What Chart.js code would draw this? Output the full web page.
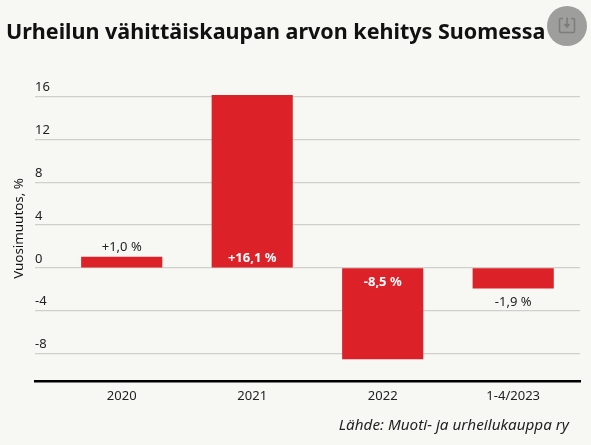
<!DOCTYPE html>
<html lang="fi">
<head>
<meta charset="utf-8">
<script src="https://cdn.jsdelivr.net/npm/chart.js@4"></script>
<style>
html,body{margin:0;padding:0;background:#f7f8f4;width:591px;height:445px;overflow:hidden;font-family:"Noto Sans",sans-serif}
#wrap{position:relative;width:591px;height:445px}
canvas{position:absolute;left:0;top:0}
#title{position:absolute;left:6px;top:16px;margin:0;font-size:21.5px;line-height:30px;font-weight:700;color:#111;white-space:nowrap}
#btn{position:absolute;left:547px;top:6px;width:40px;height:40px;border-radius:50%;background:#9e9e9c}
#src{position:absolute;right:22px;top:414px;font-size:15.25px;line-height:20px;font-style:italic;color:#222;white-space:nowrap}
</style>
</head>
<body>
<div id="wrap">
<canvas id="c" width="591" height="445"></canvas>
<h1 id="title">Urheilun vähittäiskaupan arvon kehitys Suomessa</h1>
<div id="btn"><svg width="40" height="40" viewBox="0 0 40 40" fill="none" stroke="#7d7d7b" stroke-width="1.6"><path d="M16 12.5h-2.2a1.3 1.3 0 0 0-1.300 1.300v11.400a1.300 1.300 0 0 0 1.300 1.300h12.400a1.300 1.300 0 0 0 1.300-1.300v-11.400a1.300 1.300 0 0 0-1.300-1.300H24"/><path d="M20 11.500v8.500"/><path d="M17.500 18l2.500 3 2.500-3" fill="#7d7d7b"/></svg></div>
<div id="src">Lähde: Muoti- ja urheilukauppa ry</div>
</div>
<script>
const categories = ["2020", "2021", "2022", "1-4/2023"];
const values = [1.0, 16.1, -8.5, -1.9];
const valueLabels = ["+1,0 %", "+16,1 %", "-8,5 %", "-1,9 %"];
const yTicks = [-8, -4, 0, 4, 8, 12, 16];
const yTitle = "Vuosimuutos, %";
const FONT = '"Noto Sans", sans-serif';

const barLabels = {
  id: "barLabels",
  afterDatasetsDraw(chart) {
    const { ctx, scales: { y } } = chart;
    const zero = y.getPixelForValue(0);
    ctx.save();
    ctx.textAlign = "center";
    ctx.textBaseline = "middle";
    chart.getDatasetMeta(0).data.forEach((bar, i) => {
      const v = values[i];
      const inside = Math.abs(v) > 5;
      let py;
      if (inside) py = v > 0 ? zero - 10 : zero + 14;
      else py = v > 0 ? bar.y - 9.5 : bar.y + 14.5;
      ctx.font = (inside ? "700 " : "400 ") + "13px " + FONT;
      ctx.fillStyle = inside ? "#ffffff" : "#222222";
      ctx.fillText(valueLabels[i], bar.x, py);
    });
    ctx.restore();
  }
};

new Chart(document.getElementById("c"), {
  type: "bar",
  data: {
    datasets: [{
      data: values.map((v, i) => ({ x: i, y: v })),
      backgroundColor: "#dc2128",
      borderWidth: 0,
      barThickness: 80.5
    }]
  },
  options: {
    responsive: false,
    animation: false,
    devicePixelRatio: 1,
    layout: { padding: { left: 11, right: 11, top: 75.5, bottom: 34 } },
    plugins: { legend: { display: false }, tooltip: { enabled: false } },
    scales: {
      x: {
        type: "linear",
        offset: false,
        min: -0.664,
        max: 3.512,
        afterBuildTicks(s) { s.ticks = categories.map((_, i) => ({ value: i })); },
        grid: { display: false, drawTicks: false },
        border: { display: true, color: "#000", width: 2.5 },
        ticks: {
          autoSkip: false, maxRotation: 0, padding: 7, color: "#222",
          font: { family: FONT, size: 13 },
          callback: (v) => categories[v]
        }
      },
      y: {
        min: -10.6,
        max: 17.96,
        afterBuildTicks(s) { s.ticks = yTicks.map((value) => ({ value })); },
        grid: { color: "#cfcfcb", lineWidth: 1.2, drawTicks: false },
        border: { display: false },
        title: { display: true, text: yTitle, color: "#111", font: { family: FONT, size: 13.4 }, padding: { top: 0, bottom: 8 } },
        ticks: {
          mirror: true, padding: 0, labelOffset: -9, color: "#222",
          font: { family: FONT, size: 13 }
        }
      }
    }
  },
  plugins: [barLabels]
});
</script>
</body>
</html>
